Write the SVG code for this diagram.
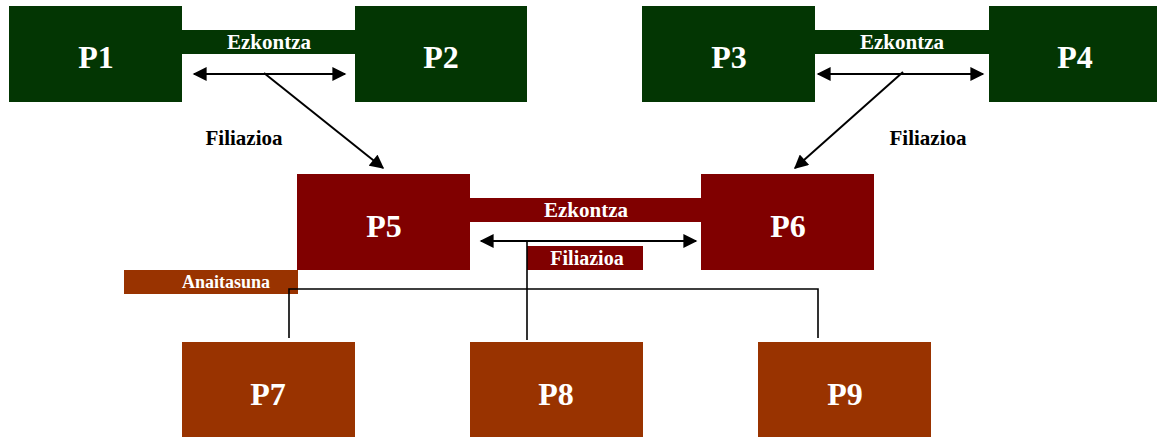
<svg xmlns="http://www.w3.org/2000/svg" width="1157" height="437" viewBox="0 0 1157 437">
<defs>
<style>
.g{fill:#033603}
.m{fill:#800000}
.b{fill:#993300}
.lbl{font-family:"Liberation Serif",serif;font-weight:bold;fill:#fff;text-anchor:middle}
.big{font-size:32px}
.mid{font-size:21px}
.blk{font-family:"Liberation Serif",serif;font-weight:bold;font-size:21px;fill:#000;text-anchor:middle}
.ln{stroke:#000;stroke-width:2;fill:none}
.tn{stroke:#000;stroke-width:1.6;fill:none}
</style>
<marker id="ah" viewBox="0 0 10 10" refX="9" refY="5" markerWidth="7.5" markerHeight="7" orient="auto-start-reverse" markerUnits="strokeWidth">
<path d="M0,0 L10,5 L0,10 z" fill="#000"/>
</marker>
</defs>
<rect width="1157" height="437" fill="#fff"/>
<g id="bar-top-left"><rect class="g" x="182" y="30" width="174" height="24"/><text class="lbl mid" x="269" y="49">Ezkontza</text></g>
<g id="bar-top-right"><rect class="g" x="814" y="30" width="176" height="24"/><text class="lbl mid" x="902" y="49">Ezkontza</text></g>
<g id="bar-mid"><rect class="m" x="469" y="198" width="233" height="24"/><text class="lbl mid" x="586" y="217">Ezkontza</text></g>
<g id="P1"><rect class="g" x="9" y="6" width="173" height="96"/><text class="lbl big" x="96" y="68">P1</text></g>
<g id="P2"><rect class="g" x="355" y="6" width="172" height="96"/><text class="lbl big" x="441" y="68">P2</text></g>
<g id="P3"><rect class="g" x="642" y="6" width="173" height="96"/><text class="lbl big" x="729" y="68">P3</text></g>
<g id="P4"><rect class="g" x="989" y="6" width="168" height="96"/><text class="lbl big" x="1075" y="68">P4</text></g>
<g id="P5"><rect class="m" x="297" y="174" width="173" height="96"/><text class="lbl big" x="384" y="237">P5</text></g>
<g id="P6"><rect class="m" x="701" y="174" width="173" height="96"/><text class="lbl big" x="788" y="237">P6</text></g>
<g id="filiazioa-box"><rect class="m" x="527" y="246" width="116" height="24"/><text class="lbl" style="font-size:20px" x="587" y="265">Filiazioa</text></g>
<g id="anaitasuna-box"><rect class="b" x="124" y="270" width="174" height="24"/><text class="lbl" style="font-size:18px" x="226" y="288">Anaitasuna</text></g>
<g id="P7"><rect class="b" x="182" y="342" width="173" height="95"/><text class="lbl big" x="268" y="405">P7</text></g>
<g id="P8"><rect class="b" x="470" y="342" width="173" height="95"/><text class="lbl big" x="556" y="405">P8</text></g>
<g id="P9"><rect class="b" x="758" y="342" width="173" height="95"/><text class="lbl big" x="845" y="405">P9</text></g>
<g id="connectors">
<line class="ln" x1="194" y1="74" x2="345" y2="74" marker-start="url(#ah)" marker-end="url(#ah)"/>
<line class="ln" x1="264" y1="73" x2="383" y2="168" marker-end="url(#ah)"/>
<line class="ln" x1="818" y1="74" x2="983" y2="74" marker-start="url(#ah)" marker-end="url(#ah)"/>
<line class="ln" x1="903" y1="72" x2="795" y2="168" marker-end="url(#ah)"/>
<line class="ln" x1="481" y1="241" x2="696" y2="241" marker-start="url(#ah)" marker-end="url(#ah)"/>
<line class="tn" x1="527" y1="241" x2="527" y2="340"/>
<polyline class="tn" points="289,338 289,289 818,289 818,338"/>
</g>
<g id="labels">
<text class="blk" x="244" y="145">Filiazioa</text>
<text class="blk" x="928" y="145">Filiazioa</text>
</g>
</svg>
